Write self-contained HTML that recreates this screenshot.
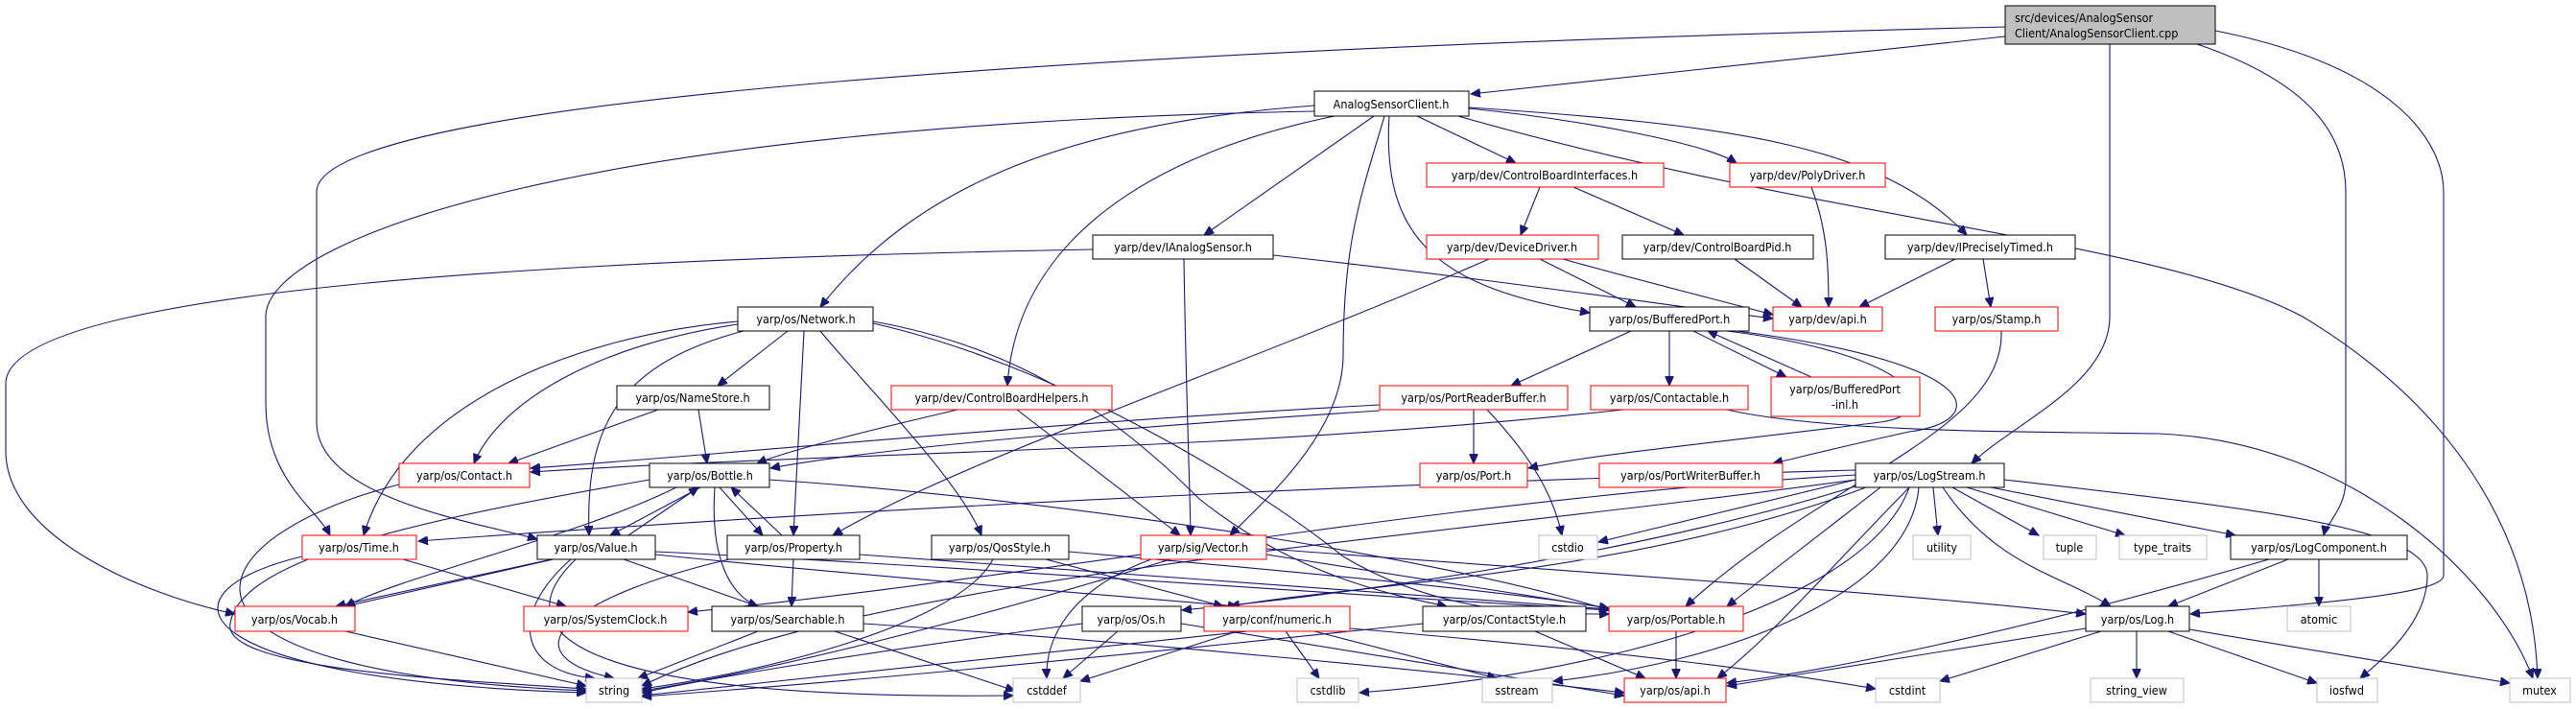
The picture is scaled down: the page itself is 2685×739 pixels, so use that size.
<!DOCTYPE html>
<html><head><meta charset="utf-8"><style>
html,body{margin:0;padding:0;background:#fff;}
svg{display:block;}
text{font-family:"DejaVu Sans Condensed","Liberation Sans",sans-serif;font-size:12.5px;fill:#000;}
.e{fill:none;stroke:#191970;stroke-width:1.1;marker-end:url(#a);}
.b{fill:#fff;stroke:#000;stroke-width:1;}
.r{fill:#fff;stroke:#ff0000;stroke-width:1;}
.g{fill:#fff;stroke:#bfbfbf;stroke-width:1;}
</style></head><body>
<svg width="2685" height="739" viewBox="0 0 2685 739" xmlns="http://www.w3.org/2000/svg">
<defs><marker id="a" markerUnits="userSpaceOnUse" markerWidth="11" markerHeight="9" refX="10" refY="4.5" orient="auto"><path d="M0,0 L10,4.5 L0,9 z" fill="#191970" stroke="#191970"/></marker></defs>
<g>
<path class="e" d="M2090 38 L1533 98"/>
<path class="e" d="M2090 28 C1200 50 330 100 330 200 L330 440 C330 520 500 545 560 562"/>
<path class="e" d="M2199 46 L2199 330 C2199 400 2100 440 2055 483"/>
<path class="e" d="M2290 46 C2420 90 2445 150 2445 200 L2445 500 C2445 530 2425 545 2422 558"/>
<path class="e" d="M2309 32 C2500 70 2547 150 2547 200 L2547 600 C2547 620 2400 630 2283 640"/>
<path class="e" d="M1370 116 C600 130 277 250 277 330 L277 420 C277 500 330 530 344 558"/>
<path class="e" d="M1370 110 C1100 130 950 200 855 320"/>
<path class="e" d="M1139 260 C600 270 6 300 6 400 L6 470 C6 560 150 620 245 640"/>
<path class="e" d="M1391 121 C1200 160 1060 250 1050 402"/>
<path class="e" d="M1432 121 L1255 245"/>
<path class="e" d="M1443 121 C1420 200 1400 250 1400 370 C1400 450 1320 520 1282 558"/>
<path class="e" d="M1448 121 C1440 250 1500 300 1657 326"/>
<path class="e" d="M1477 121 L1580 170"/>
<path class="e" d="M1531 113 C1650 125 1780 150 1810 170"/>
<path class="e" d="M1531 112 C1800 130 1960 150 2050 245"/>
<path class="e" d="M1520 121 C1900 230 2250 250 2400 330 C2550 420 2640 550 2645 707"/>
<path class="e" d="M1605 195 L1585 245"/>
<path class="e" d="M1640 195 L1755 245"/>
<path class="e" d="M1888 195 C1905 240 1906 280 1906 320"/>
<path class="e" d="M1808 270 L1878 320"/>
<path class="e" d="M2038 270 L1938 320"/>
<path class="e" d="M2067 270 L2075 320"/>
<path class="e" d="M1629 270 C1700 290 1780 310 1848 328"/>
<path class="e" d="M1605 270 L1705 320"/>
<path class="e" d="M1552 270 C1300 380 1000 480 868 558"/>
<path class="e" d="M1327 266 C1550 290 1750 320 1848 332"/>
<path class="e" d="M1234 270 C1236 400 1240 500 1241 558"/>
<path class="e" d="M821 345 L748 402"/>
<path class="e" d="M838 345 L827 558"/>
<path class="e" d="M855 345 C900 400 1000 500 1023 558"/>
<path class="e" d="M910 335 C1050 360 1150 420 1250 520 C1350 600 1450 620 1508 632"/>
<path class="e" d="M910 337 C1100 380 1300 500 1400 580 C1500 640 1600 640 1677 640"/>
<path class="e" d="M769 335 C600 350 420 420 379 558"/>
<path class="e" d="M769 338 C620 360 520 420 494 483"/>
<path class="e" d="M775 345 C640 380 610 450 614 558"/>
<path class="e" d="M686 427 L530 483"/>
<path class="e" d="M728 427 L737 483"/>
<path class="e" d="M1700 345 L1575 402"/>
<path class="e" d="M1740 345 L1740 402"/>
<path class="e" d="M1765 345 L1862 393"/>
<path class="e" d="M1888 393 L1780 345"/>
<path class="e" d="M1800 345 C2000 370 2030 430 1960 440 C1800 460 1650 475 1593 488"/>
<path class="e" d="M1810 345 C2080 380 2070 440 1990 450 C1900 470 1870 478 1848 483"/>
<path class="e" d="M1536 427 L1536 483"/>
<path class="e" d="M1550 427 C1600 480 1620 520 1628 558"/>
<path class="e" d="M1438 422 C1100 440 800 470 553 488"/>
<path class="e" d="M1438 428 C1100 450 900 470 803 488"/>
<path class="e" d="M1692 427 C1300 470 900 470 553 492"/>
<path class="e" d="M1800 427 C1900 450 2100 450 2250 452 C2450 460 2600 600 2640 707"/>
<path class="e" d="M998 427 C900 450 820 470 789 483"/>
<path class="e" d="M1060 427 L1230 558"/>
<path class="e" d="M2086 345 C2090 450 1900 500 1757 632"/>
<path class="e" d="M730 508 L636 558"/>
<path class="e" d="M655 558 L728 508"/>
<path class="e" d="M750 508 L795 558"/>
<path class="e" d="M815 558 L762 508"/>
<path class="e" d="M745 508 C740 580 760 620 790 632"/>
<path class="e" d="M705 508 C600 560 420 600 360 632"/>
<path class="e" d="M677 500 C450 540 250 580 240 650 C230 700 500 710 611 718"/>
<path class="e" d="M802 500 C1100 520 1500 580 1677 636"/>
<path class="e" d="M416 505 C200 560 130 700 611 720"/>
<path class="e" d="M315 580 C150 620 200 710 611 722"/>
<path class="e" d="M420 583 L590 632"/>
<path class="e" d="M575 583 L350 632"/>
<path class="e" d="M590 580 L360 632"/>
<path class="e" d="M595 583 C530 640 540 700 620 707"/>
<path class="e" d="M650 583 L790 632"/>
<path class="e" d="M683 578 C900 600 1150 620 1290 632"/>
<path class="e" d="M600 583 C520 660 600 730 1056 725"/>
<path class="e" d="M683 575 C1000 590 1400 620 1677 636"/>
<path class="e" d="M760 583 C600 620 520 680 640 707"/>
<path class="e" d="M827 583 L825 632"/>
<path class="e" d="M896 578 C1200 600 1500 620 1677 635"/>
<path class="e" d="M360 658 L611 715"/>
<path class="e" d="M790 658 L665 707"/>
<path class="e" d="M870 658 L1058 720"/>
<path class="e" d="M900 650 C1200 670 1500 700 1693 722"/>
<path class="e" d="M1035 583 C1000 650 800 700 669 718"/>
<path class="e" d="M1090 583 L1275 632"/>
<path class="e" d="M1114 575 C1400 600 1600 620 1677 634"/>
<path class="e" d="M1200 583 C1100 620 1090 680 1091 707"/>
<path class="e" d="M1220 583 C1000 650 800 700 669 720"/>
<path class="e" d="M1320 578 L1677 634"/>
<path class="e" d="M1320 572 C1700 600 2000 620 2174 640"/>
<path class="e" d="M1165 658 L1108 707"/>
<path class="e" d="M1128 650 C900 680 750 705 669 722"/>
<path class="e" d="M1231 650 L1693 725"/>
<path class="e" d="M1290 658 L1126 710"/>
<path class="e" d="M1340 658 L1375 707"/>
<path class="e" d="M1370 658 L1560 707"/>
<path class="e" d="M1407 655 C1700 680 1850 700 1955 718"/>
<path class="e" d="M1300 658 C1000 690 800 710 669 725"/>
<path class="e" d="M1600 658 L1715 707"/>
<path class="e" d="M1483 650 C1200 680 900 710 669 726"/>
<path class="e" d="M1747 658 L1747 707"/>
<path class="e" d="M1934 490 C1400 505 900 530 436 564"/>
<path class="e" d="M1934 495 C1500 520 1100 600 717 638"/>
<path class="e" d="M1940 505 C1700 580 1400 620 1232 636"/>
<path class="e" d="M1945 508 C1700 600 1400 610 1282 632"/>
<path class="e" d="M1960 508 L1800 632"/>
<path class="e" d="M1934 500 C1500 560 900 600 669 715"/>
<path class="e" d="M1934 500 L1666 565"/>
<path class="e" d="M1990 508 C1900 600 1850 660 1790 707"/>
<path class="e" d="M1990 508 C1950 620 1700 700 1417 722"/>
<path class="e" d="M2000 508 C1990 620 1800 690 1619 710"/>
<path class="e" d="M2015 508 L2020 558"/>
<path class="e" d="M2035 508 L2125 558"/>
<path class="e" d="M2050 508 L2215 558"/>
<path class="e" d="M2075 508 L2330 558"/>
<path class="e" d="M2025 508 C2080 590 2150 600 2200 632"/>
<path class="e" d="M2089 500 C2350 530 2530 550 2530 600 C2530 650 2480 690 2460 707"/>
<path class="e" d="M2385 583 L2260 632"/>
<path class="e" d="M2365 583 C2100 660 1900 700 1800 712"/>
<path class="e" d="M2417 583 L2417 632"/>
<path class="e" d="M2174 655 L1800 715"/>
<path class="e" d="M2190 658 L2022 710"/>
<path class="e" d="M2227 658 L2227 707"/>
<path class="e" d="M2260 658 L2415 712"/>
<path class="e" d="M2282 656 L2616 712"/>
</g>
<g text-anchor="middle">
<rect x="2090" y="6" width="219" height="40" fill="#bfbfbf" stroke="#000"/>
<text x="2100" y="23" text-anchor="start">src/devices/AnalogSensor</text>
<text x="2100" y="39" text-anchor="start">Client/AnalogSensorClient.cpp</text>

<rect class="b" x="1370" y="95" width="161" height="26"/><text x="1450" y="113">AnalogSensorClient.h</text>
<rect class="r" x="1487" y="170" width="247" height="25"/><text x="1610" y="187">yarp/dev/ControlBoardInterfaces.h</text>
<rect class="r" x="1803" y="170" width="162" height="25"/><text x="1884" y="187">yarp/dev/PolyDriver.h</text>
<rect class="b" x="1139" y="245" width="188" height="25"/><text x="1233" y="262">yarp/dev/IAnalogSensor.h</text>
<rect class="r" x="1487" y="245" width="179" height="25"/><text x="1576" y="262">yarp/dev/DeviceDriver.h</text>
<rect class="b" x="1691" y="245" width="199" height="25"/><text x="1790" y="262">yarp/dev/ControlBoardPid.h</text>
<rect class="b" x="1965" y="245" width="198" height="25"/><text x="2064" y="262">yarp/dev/IPreciselyTimed.h</text>
<rect class="b" x="769" y="320" width="141" height="25"/><text x="840" y="337">yarp/os/Network.h</text>
<rect class="b" x="1657" y="320" width="166" height="25"/><text x="1740" y="337">yarp/os/BufferedPort.h</text>
<rect class="r" x="1848" y="320" width="114" height="25"/><text x="1905" y="337">yarp/dev/api.h</text>
<rect class="r" x="2017" y="320" width="128" height="25"/><text x="2081" y="337">yarp/os/Stamp.h</text>
<rect class="b" x="643" y="402" width="159" height="25"/><text x="722" y="419">yarp/os/NameStore.h</text>
<rect class="r" x="929" y="402" width="230" height="25"/><text x="1044" y="419">yarp/dev/ControlBoardHelpers.h</text>
<rect class="r" x="1438" y="402" width="196" height="25"/><text x="1536" y="419">yarp/os/PortReaderBuffer.h</text>
<rect class="r" x="1658" y="402" width="164" height="25"/><text x="1740" y="419">yarp/os/Contactable.h</text>
<rect class="r" x="1846" y="393" width="155" height="41"/><text x="1923" y="410">yarp/os/BufferedPort</text><text x="1923" y="426">-inl.h</text>
<rect class="r" x="416" y="483" width="136" height="25"/><text x="484" y="500">yarp/os/Contact.h</text>
<rect class="b" x="677" y="483" width="125" height="25"/><text x="740" y="500">yarp/os/Bottle.h</text>
<rect class="r" x="1480" y="483" width="112" height="25"/><text x="1536" y="500">yarp/os/Port.h</text>
<rect class="r" x="1667" y="483" width="191" height="25"/><text x="1762" y="500">yarp/os/PortWriterBuffer.h</text>
<rect class="b" x="1934" y="483" width="155" height="25"/><text x="2011" y="500">yarp/os/LogStream.h</text>
<rect class="r" x="315" y="558" width="119" height="25"/><text x="374" y="575">yarp/os/Time.h</text>
<rect class="b" x="560" y="558" width="123" height="25"/><text x="621" y="575">yarp/os/Value.h</text>
<rect class="b" x="758" y="558" width="138" height="25"/><text x="827" y="575">yarp/os/Property.h</text>
<rect class="b" x="971" y="558" width="143" height="25"/><text x="1042" y="575">yarp/os/QosStyle.h</text>
<rect class="r" x="1189" y="558" width="131" height="25"/><text x="1254" y="575">yarp/sig/Vector.h</text>
<rect class="g" x="1604" y="558" width="61" height="25"/><text x="1634" y="575">cstdio</text>
<rect class="g" x="1994" y="558" width="60" height="25"/><text x="2024" y="575">utility</text>
<rect class="g" x="2130" y="558" width="55" height="25"/><text x="2157" y="575">tuple</text>
<rect class="g" x="2209" y="558" width="91" height="25"/><text x="2254" y="575">type_traits</text>
<rect class="b" x="2325" y="558" width="184" height="25"/><text x="2417" y="575">yarp/os/LogComponent.h</text>
<rect class="r" x="245" y="632" width="125" height="26"/><text x="307" y="650">yarp/os/Vocab.h</text>
<rect class="r" x="546" y="632" width="171" height="26"/><text x="631" y="650">yarp/os/SystemClock.h</text>
<rect class="b" x="742" y="632" width="158" height="26"/><text x="821" y="650">yarp/os/Searchable.h</text>
<rect class="b" x="1128" y="632" width="103" height="26"/><text x="1179" y="650">yarp/os/Os.h</text>
<rect class="r" x="1255" y="632" width="152" height="26"/><text x="1331" y="650">yarp/conf/numeric.h</text>
<rect class="b" x="1483" y="632" width="170" height="26"/><text x="1568" y="650">yarp/os/ContactStyle.h</text>
<rect class="r" x="1677" y="632" width="140" height="26"/><text x="1747" y="650">yarp/os/Portable.h</text>
<rect class="b" x="2174" y="632" width="108" height="26"/><text x="2228" y="650">yarp/os/Log.h</text>
<rect class="g" x="2384" y="632" width="66" height="26"/><text x="2417" y="650">atomic</text>
<rect class="g" x="611" y="707" width="58" height="25"/><text x="640" y="724">string</text>
<rect class="g" x="1056" y="707" width="70" height="25"/><text x="1091" y="724">cstddef</text>
<rect class="g" x="1352" y="707" width="64" height="25"/><text x="1384" y="724">cstdlib</text>
<rect class="g" x="1545" y="707" width="73" height="25"/><text x="1581" y="724">sstream</text>
<rect class="r" x="1693" y="707" width="106" height="25"/><text x="1746" y="724">yarp/os/api.h</text>
<rect class="g" x="1955" y="707" width="67" height="25"/><text x="1988" y="724">cstdint</text>
<rect class="g" x="2179" y="707" width="97" height="25"/><text x="2227" y="724">string_view</text>
<rect class="g" x="2415" y="707" width="63" height="25"/><text x="2446" y="724">iosfwd</text>
<rect class="g" x="2616" y="707" width="63" height="25"/><text x="2647" y="724">mutex</text>
</g>
</svg>
</body></html>
